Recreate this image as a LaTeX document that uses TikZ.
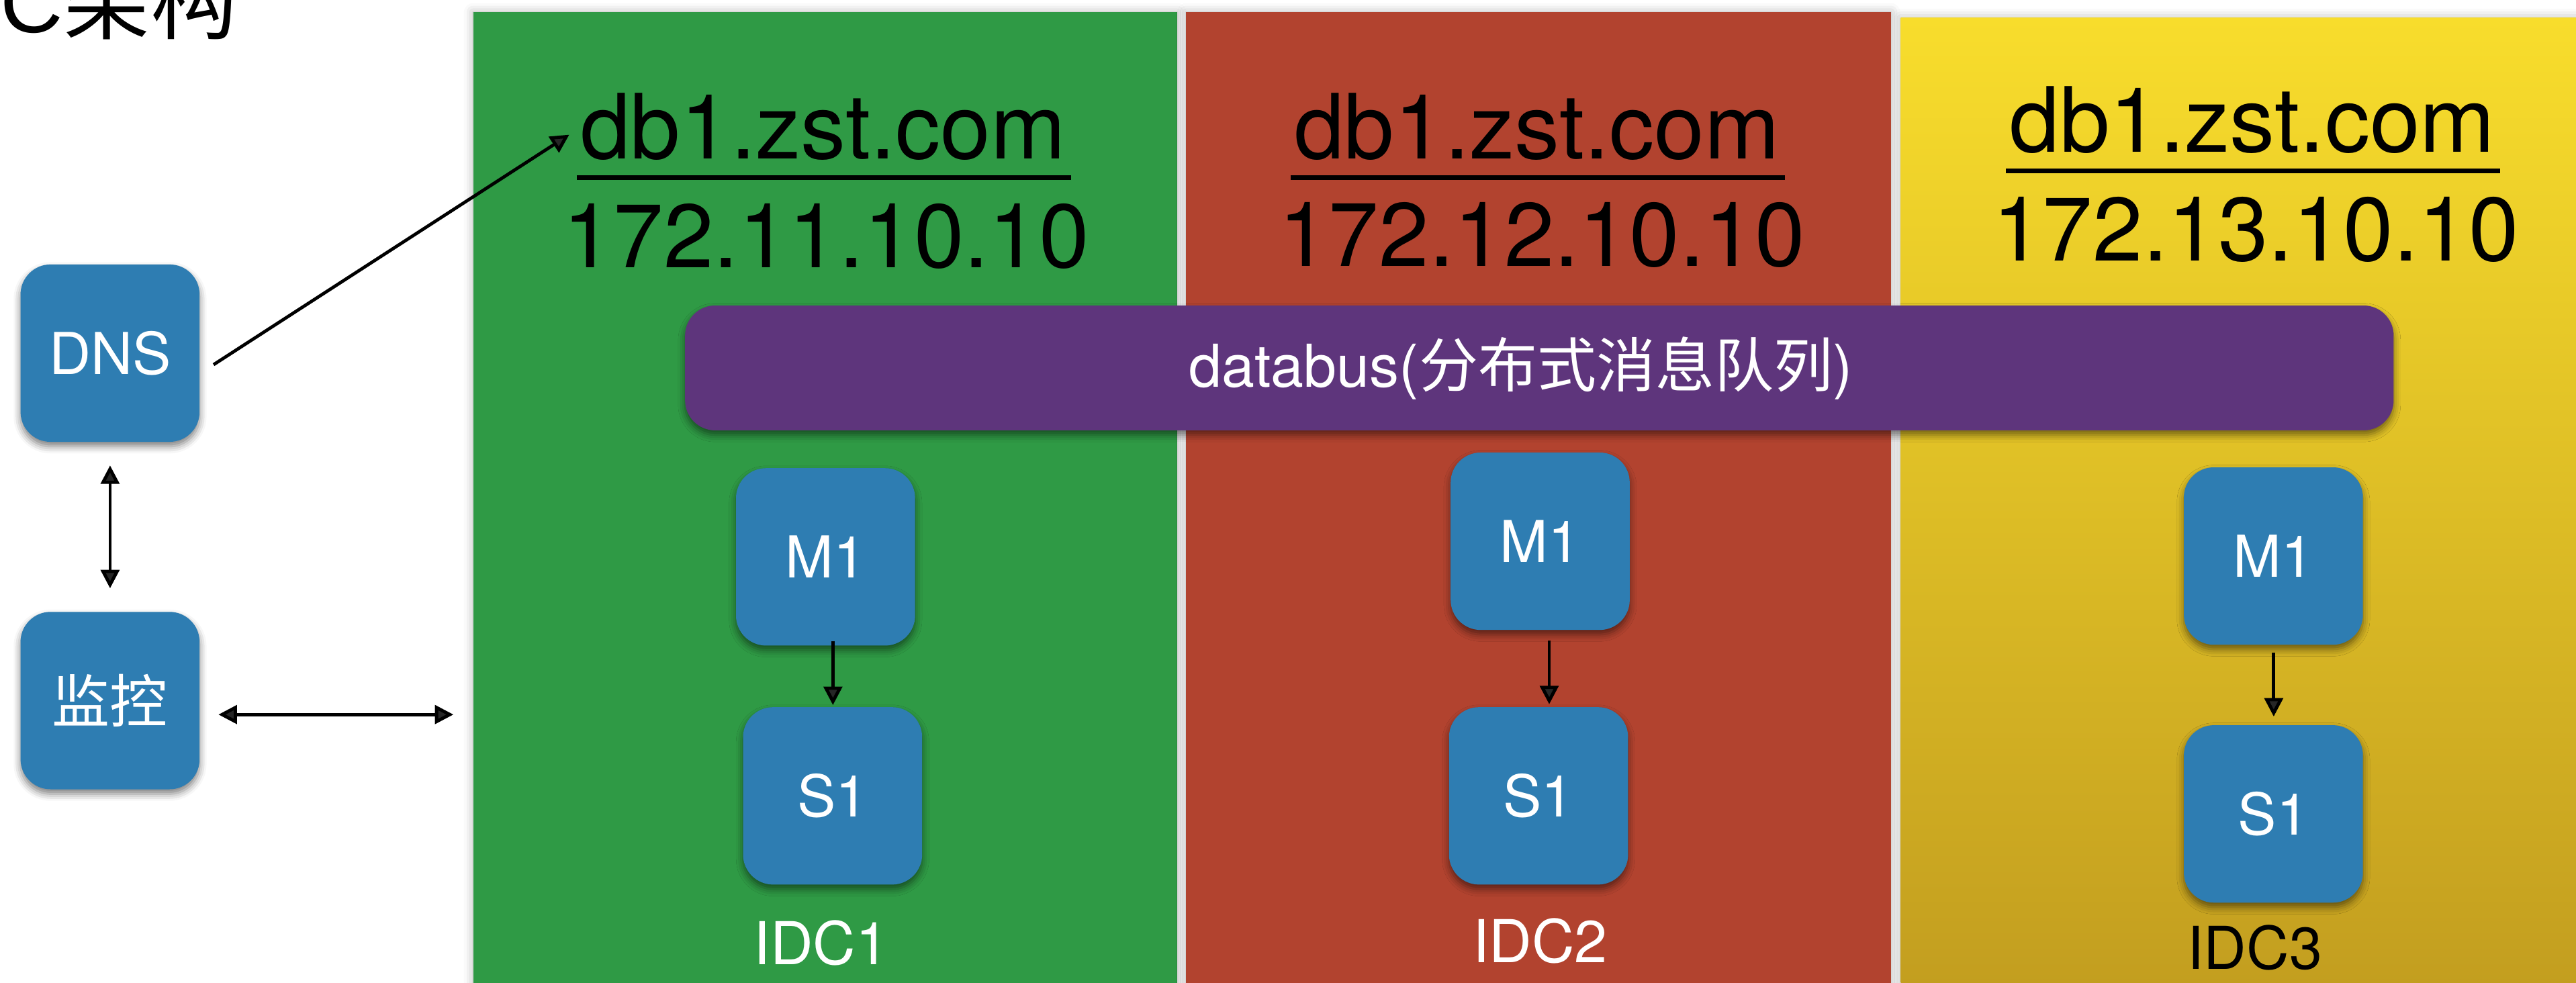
\documentclass[tikz,border=0pt]{standalone}
\usepackage{fontspec}
\setmainfont{TeX Gyre Heros}
\newfontfamily\cjkfont{Noto Sans CJK SC}
\newfontfamily\arialfont{Liberation Sans}
\usetikzlibrary{arrows.meta,calc,shadows.blur}

\definecolor{boxblue}{HTML}{2E7DB2}
\definecolor{idcgreen}{HTML}{2F9A45}
\definecolor{idcred}{HTML}{B2432F}
\definecolor{busviolet}{HTML}{5E357C}
\definecolor{goldtop}{HTML}{F8DD2C}
\definecolor{goldbot}{HTML}{C29D1F}

\newcommand\fsz[1]{\fontsize{#1}{#1}\selectfont}

\tikzset{
  panel/.style={draw=none,
    blur shadow={shadow xshift=0pt, shadow yshift=0pt, shadow blur radius=4pt, shadow opacity=30}},
  unitbox/.style={fill=boxblue, rounded corners=13pt,
    minimum width=109*0.025cm, minimum height=108*0.025cm,
    inner sep=0pt, text=white, font=\fsz{25},
    blur shadow={shadow xshift=0pt, shadow yshift=-2pt, shadow blur radius=3pt, shadow opacity=50}},
  busbar/.style={fill=busviolet, rounded corners=13pt,
    minimum width=1040*0.025cm, minimum height=76*0.025cm,
    inner sep=0pt, text=white, font=\fsz{25.6},
    blur shadow={shadow xshift=0pt, shadow yshift=-2pt, shadow blur radius=3pt, shadow opacity=50}},
  hosttext/.style={font=\fsz{39}, text=black, inner sep=0pt, anchor=base},
  idclabel/.style={font=\fsz{25.6}, inner sep=0pt, anchor=base},
  hostrule/.style={line width=2pt},
  link/.style={line width=1.4pt, -{Triangle[width=8pt,length=8pt]}},
  duplex/.style={line width=1.4pt,
    {Triangle[width=8pt,length=8pt]}-{Triangle[width=8pt,length=8pt]}},
}

\begin{document}
\begin{tikzpicture}[x=0.025cm, y=-0.025cm]
\useasboundingbox (0,0) rectangle (1568,598.4);

% data-centre panels
\path[panel, fill=idcgreen] (288,7.5) rectangle (716.5,610);
\path[panel, fill=idcred] (722,7.5) rectangle (1151,610);
\path[panel, top color=goldtop, bottom color=goldbot] (1157,11) rectangle (1580,610);

% heading (runs past the top-left corner)
\node[anchor=base west, inner sep=0pt, font=\fsz{37.7}] (title) at (0,20)
  {{\arialfont C}{\cjkfont 架构}};

% host names and addresses
\node[hosttext] (hosta) at (501,96.5) {db1.zst.com};
\node[hosttext] (ipa) at (503,163) {172.11.10.10};
\node[hosttext] (hostb) at (935.5,96.5) {db1.zst.com};
\node[hosttext] (ipb) at (938.5,162) {172.12.10.10};
\node[hosttext] (hostc) at (1371,92.7) {db1.zst.com};
\node[hosttext] (ipc) at (1373,159) {172.13.10.10};
\draw[hostrule] ($(hosta.base west)+(-2,11.5)$) -- ($(hosta.base east)+(3,11.5)$);
\draw[hostrule] ($(hostb.base west)+(-2,11.5)$) -- ($(hostb.base east)+(3,11.5)$);
\draw[hostrule] ($(hostc.base west)+(-2,11.5)$) -- ($(hostc.base east)+(3,11.5)$);

% message bus
\node[busbar] (bus) at (937,224) {databus({\cjkfont 分布式消息队列})\kern 16pt};

% control side
\node[unitbox] (dns) at (67,215) {DNS};
\node[unitbox] (mon) at (67,426.5) {\cjkfont 监控};

% master/slave pairs
\node[unitbox] (m1a) at (502.5,339) {M1};
\node[unitbox] (s1a) at (506.8,484.5) {S1};
\node[unitbox] (m1b) at (937.5,329.5) {M1};
\node[unitbox] (s1b) at (936.5,484.5) {S1};
\node[unitbox] (m1c) at (1383.8,338.5) {M1};
\node[unitbox] (s1c) at (1383.8,495.5) {S1};

% data-centre labels
\node[idclabel, text=white] (idca) at (500,587) {IDC1};
\node[idclabel, text=white] (idcb) at (937.5,586) {IDC2};
\node[idclabel, text=black] (idcc) at (1372.5,590) {IDC3};

% connectors
\coordinate (dnsout) at (130,222);
\coordinate (hostin) at (346.5,82);
\draw[link] (dnsout) -- (hostin);
\draw[duplex, shorten <=10pt, shorten >=10pt] (dns.south) -- (mon.north);
\coordinate (monout) at (133,435);
\coordinate (idcedge) at (276,435);
\draw[duplex] (monout) -- (idcedge);
\draw[link] ($(m1a.south)+(4.5,-3)$) -- ($(s1a.north)+(0.2,-1)$);
\draw[link] ($(m1b.south)+(5.5,6)$) -- ($(s1b.north)+(6.5,-1.5)$);
\draw[link] ($(m1c.south)+(0.2,4.5)$) -- ($(s1c.north)+(0.2,-5)$);
\end{tikzpicture}
\end{document}
